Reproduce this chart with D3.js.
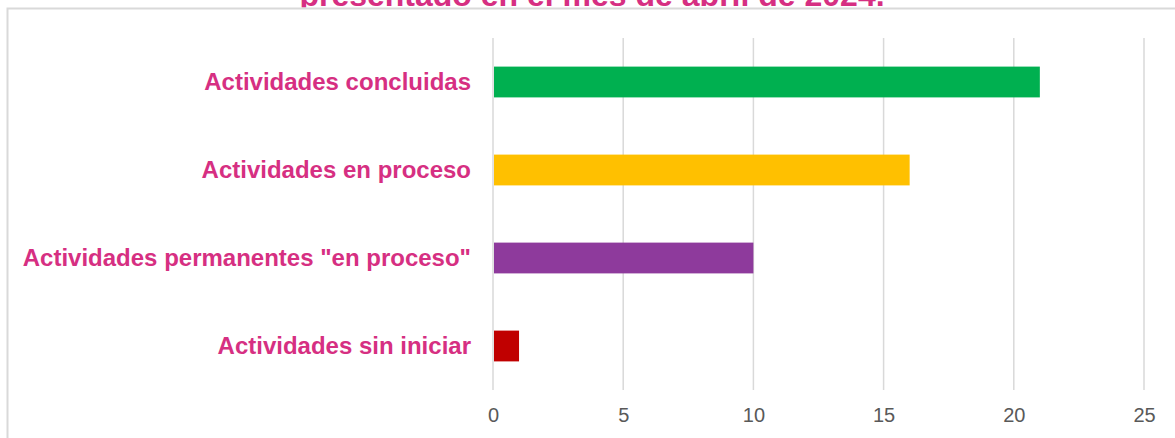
<!DOCTYPE html>
<html>
<head>
<meta charset="utf-8">
<script src="https://cdn.jsdelivr.net/npm/d3@7"></script>
<style>
  body { margin: 0; background: #fff; }
  text { font-family: "Liberation Sans", Arial, sans-serif; }
</style>
</head>
<body>
<div id="vis"></div>
<script>
'use strict'

const categories = [
  'Actividades concluidas'
, 'Actividades en proceso'
, 'Actividades permanentes "en proceso"'
, 'Actividades sin iniciar'
]
const values = [21, 16, 10, 1]
const barColors = ['#00b050', '#ffc000', '#8e3a9c', '#c00000']
const xTicks = [0, 5, 10, 15, 20, 25]
const titleText = 'presentado en el mes de abril de 2024.'

const totalWidth = 1175
const totalHeight = 438
const margin = { top: 38, right: 31, bottom: 48, left: 493 }
const width = totalWidth - margin.left - margin.right
const height = totalHeight - margin.top - margin.bottom
const pink = '#d62f82'

const x = d3.scaleLinear()
  .domain([0, 25])
  .range([0, width])

const y = d3.scaleBand()
  .domain(categories)
  .range([0, height])
  .paddingInner(0.65)
  .paddingOuter(0.325)

const svg = d3.select('div#vis')
  .append('svg')
    .attr('width', totalWidth)
    .attr('height', totalHeight)

// title is cut off by the top edge and the chart border
svg.append('clipPath')
  .attr('id', 'title-clip')
  .append('rect')
    .attr('x', 0)
    .attr('y', 0)
    .attr('width', totalWidth)
    .attr('height', 7.5)

svg.append('text')
  .attr('clip-path', 'url(#title-clip)')
  .attr('x', 592)
  .attr('y', 6)
  .attr('text-anchor', 'middle')
  .attr('font-size', 32)
  .attr('font-weight', 'bold')
  .attr('fill', pink)
  .text(titleText)

// chart area border
svg.append('rect')
  .attr('x', 7.5)
  .attr('y', 8.5)
  .attr('width', totalWidth + 10)
  .attr('height', totalHeight + 10)
  .attr('fill', 'none')
  .attr('stroke', '#d9d9d9')
  .attr('stroke-width', 2)

const inner = svg.append('g')
  .attr('transform', 'translate(' + margin.left + ',' + margin.top + ')')

// gridlines
inner.selectAll('line.grid')
  .data(xTicks)
  .join('line')
    .classed('grid', true)
    .attr('x1', d => x(d))
    .attr('x2', d => x(d))
    .attr('y1', 0)
    .attr('y2', height)
    .attr('stroke', '#d9d9d9')
    .attr('stroke-width', 1.5)

// bars
inner.selectAll('rect.bar')
  .data(values)
  .join('rect')
    .classed('bar', true)
    .attr('x', x(0) + 1)
    .attr('y', (d, i) => y(categories[i]))
    .attr('width', d => x(d) - x(0) - 1)
    .attr('height', y.bandwidth())
    .attr('fill', (d, i) => barColors[i])

// x axis labels
const xAxis = d3.axisBottom(x)
  .tickValues(xTicks)
  .tickSize(0)
  .tickPadding(18)

inner.append('g')
  .attr('transform', 'translate(0,' + height + ')')
  .call(xAxis)
  .call(g => g.select('.domain').remove())
  .call(g => g.selectAll('text')
    .attr('font-family', '"Liberation Sans Narrow", "Liberation Sans", Arial, sans-serif')
    .attr('font-size', 20)
    .attr('fill', '#595959'))

// category labels
const yAxis = d3.axisLeft(y)
  .tickSize(0)
  .tickPadding(22)

inner.append('g')
  .call(yAxis)
  .call(g => g.select('.domain').remove())
  .call(g => g.selectAll('text')
    .attr('font-family', '"Liberation Sans", Arial, sans-serif')
    .attr('font-size', 24)
    .attr('font-weight', 'bold')
    .attr('fill', pink))
</script>
</body>
</html>
